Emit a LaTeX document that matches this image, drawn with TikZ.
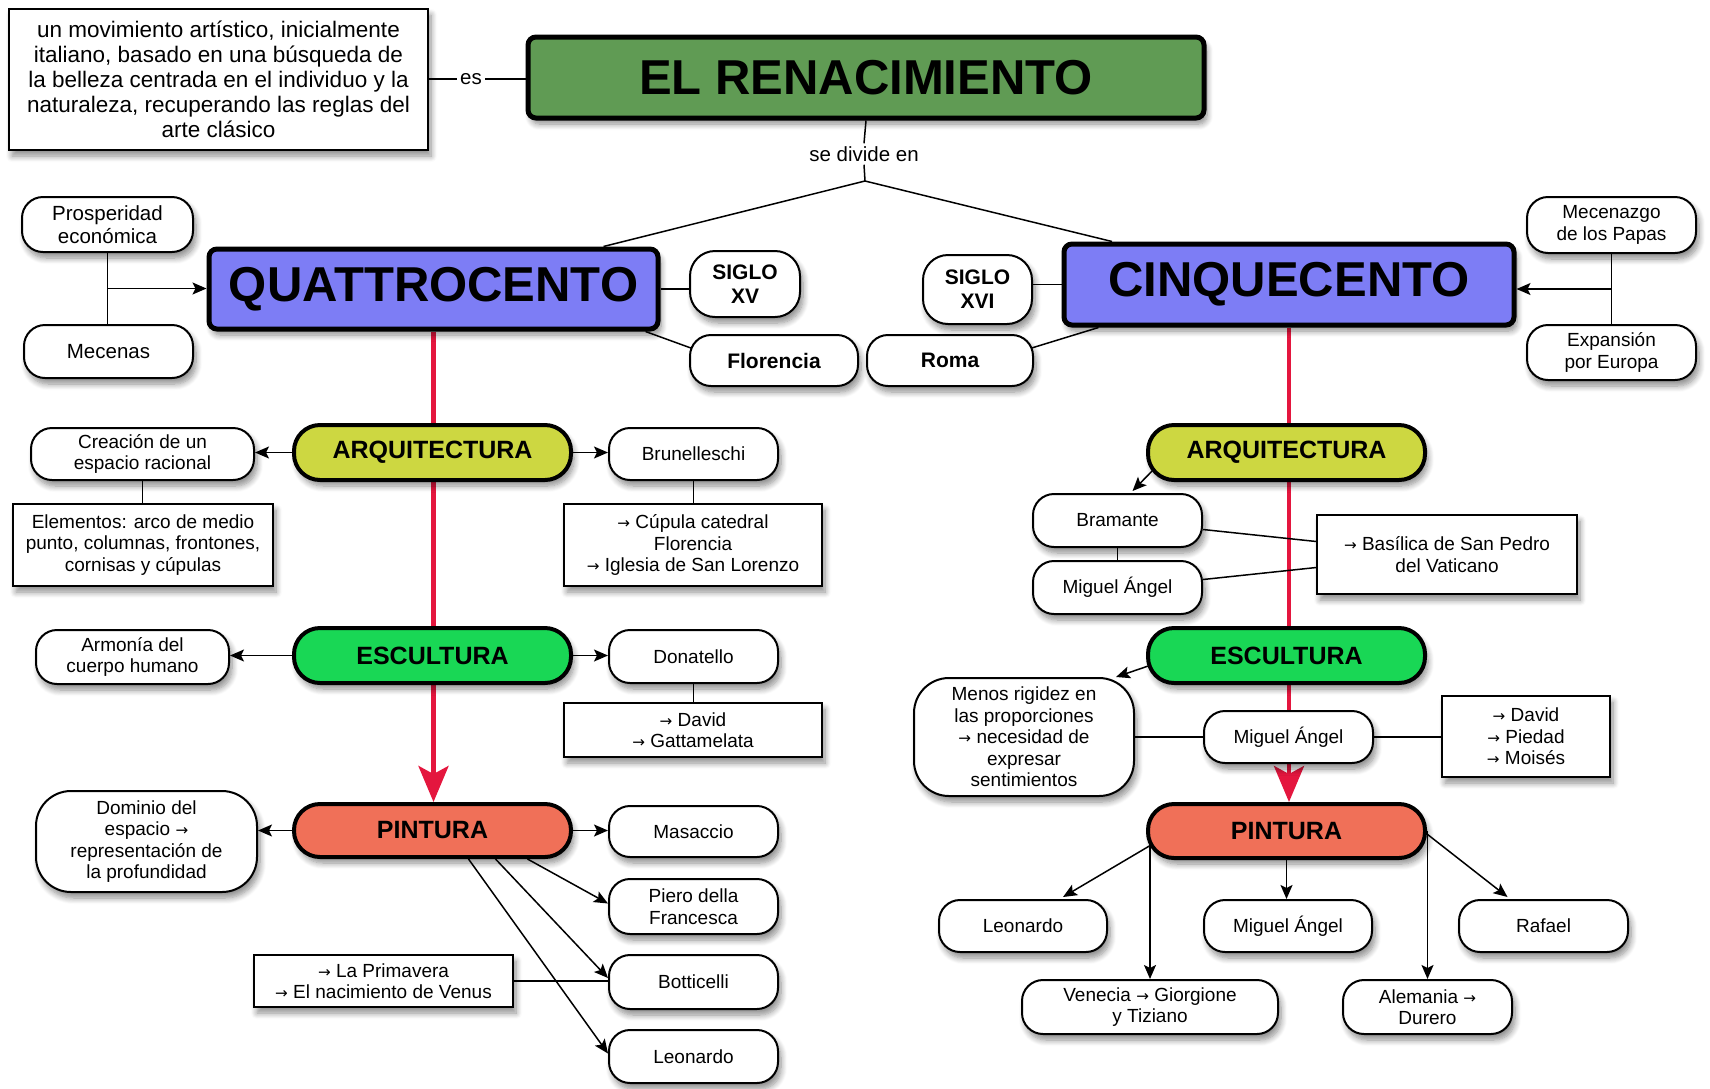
\documentclass[tikz,border=0pt]{standalone}
\usepackage{fontspec}
\setmainfont{Liberation Sans}
\newfontfamily\arrowfam{DejaVu Sans}
\newcommand\myarr{{\arrowfam\scalebox{0.8}{→}}}
\usetikzlibrary{arrows.meta,calc,shadows.blur}
\pgfdeclarelayer{background}
\pgfsetlayers{background,main}
\definecolor{rengreen}{RGB}{96,155,84}
\definecolor{perblue}{RGB}{125,125,245}
\definecolor{arqyellow}{RGB}{205,215,65}
\definecolor{escgreen}{RGB}{25,215,85}
\definecolor{pinsalmon}{RGB}{240,112,88}
\definecolor{redc}{RGB}{228,22,62}
\tikzset{
 shad/.style={blur shadow={shadow xshift=3pt,shadow yshift=-6pt,shadow blur radius=6pt,shadow blur steps=8,shadow opacity=45}},
 nbase/.style={draw=black, fill=white, inner sep=0pt, align=center, shad, text=black},
 smalltxt/.style={font=\fontsize{19}{21.5}\selectfont},
 wnode/.style={nbase, smalltxt, line width=2pt, rounded corners=21pt},
 rbox/.style={nbase, smalltxt, line width=1.5pt},
 catnode/.style={nbase, line width=4pt, rounded corners=26pt, font=\fontsize{25}{28}\selectfont\bfseries, minimum width=277pt, minimum height=55pt},
 pernode/.style={nbase, line width=5pt, rounded corners=8pt, fill=perblue, font=\fontsize{49}{54}\selectfont\bfseries},
 sz/.style 2 args={minimum width=#1pt, minimum height=#2pt},
 lbl/.style={inner sep=3pt, font=\fontsize{20.5}{23}\selectfont},
 lnk/.style={line width=1.5pt, draw=black},
 arrlnk/.style={lnk, -{Stealth[length=14pt,width=12pt,inset=3pt]}},
 redln/.style={line width=4.5pt, draw=redc, -{Stealth[length=36pt,width=30pt,inset=8pt]}},
}
\begin{document}
\begin{tikzpicture}[x=1pt,y=-1pt]
\useasboundingbox (0,0) rectangle (1710,1088);
\begin{pgfonlayer}{background}
\fill[white] (0,0) rectangle (1710,1088);
\end{pgfonlayer}
% warm-up shadow, outside the page
\node[rbox, sz={40}{40}] (dummy) at (-400,-400) {};

% top
\node[lbl] (es) at (471,79) {es};
\node[nbase, line width=5pt, rounded corners=8pt, fill=rengreen, font=\fontsize{49}{54}\selectfont\bfseries, sz={676}{81}] (ren) at (866,77.5) {EL RENACIMIENTO};
\node[rbox, sz={419}{141}, font=\fontsize{22.5}{25}\selectfont] (def) at (218.5,79.5)
 {un movimiento artístico, inicialmente\\italiano, basado en una búsqueda de\\la belleza centrada en el individuo y la\\naturaleza, recuperando las reglas del\\arte clásico};
\node[lbl] (sediv) at (864,154) {se divide en};
\coordinate (j) at (865,181);

% periods
\node[pernode, sz={449}{80}] (quat) at (433.5,289) {QUATTROCENTO};
\node[pernode, sz={450}{81}] (cinq) at (1289,284.5) {CINQUECENTO};
\node[wnode, rounded corners=25pt, sz={110}{66}, font=\fontsize{21}{24}\selectfont\bfseries] (sxv) at (745,284) {SIGLO\\XV};
\node[wnode, rounded corners=25pt, sz={109}{69}, font=\fontsize{21}{24}\selectfont\bfseries] (sxvi) at (977.5,289.5) {SIGLO\\XVI};
\node[wnode, sz={168}{51}, font=\fontsize{21}{24}\selectfont\bfseries] (flor) at (774,360.5) {Florencia};
\node[wnode, sz={166}{51}, font=\fontsize{21}{24}\selectfont\bfseries] (roma) at (950,360.5) {Roma};
\node[wnode, sz={171}{55}, font=\fontsize{20.5}{23}\selectfont] (pros) at (107.5,224.5) {Prosperidad\\económica};
\node[wnode, sz={169}{53}, font=\fontsize{20.5}{23}\selectfont] (mec) at (108.5,351.5) {Mecenas};
\node[wnode, sz={169}{56}] (mpap) at (1611.5,225) {Mecenazgo\\de los Papas};
\node[wnode, sz={169}{55}] (exp) at (1611.5,352.5) {Expansión\\por Europa};

% left column
\node[catnode, fill=arqyellow] (aql) at (432.5,452.5) {ARQUITECTURA};
\node[catnode, fill=escgreen] (esl) at (432.5,655.5) {ESCULTURA};
\node[catnode, fill=pinsalmon, minimum height=53pt] (pil) at (432.5,830.5) {PINTURA};
\node[wnode, sz={223}{52}] (crea) at (142.5,454) {Creación de un\\espacio racional};
\node[rbox, sz={260}{82}] (elem) at (143,545) {Elementos: arco de medio\\punto, columnas, frontones,\\cornisas y cúpulas};
\node[wnode, sz={169}{52}] (brun) at (693.5,454) {Brunelleschi};
\node[rbox, sz={258}{82}] (cup) at (693,545) {\myarr{} Cúpula catedral\\Florencia\\\myarr{} Iglesia de San Lorenzo};
\node[wnode, sz={193}{54}] (armo) at (132.5,657) {Armonía del\\cuerpo humano};
\node[wnode, sz={169}{53}] (dona) at (693.5,656.5) {Donatello};
\node[rbox, sz={258}{54}] (dav1) at (693,730) {\myarr{} David\\\myarr{} Gattamelata};
\node[wnode, rounded corners=35pt, sz={221}{101}] (domi) at (146.5,841.5) {Dominio del\\espacio \myarr\\representación de\\la profundidad};
\node[wnode, sz={169}{51}] (masa) at (693.5,831.5) {Masaccio};
\node[wnode, sz={169}{55}] (pier) at (693.5,906.5) {Piero della\\Francesca};
\node[wnode, sz={169}{54}] (bott) at (693.5,982) {Botticelli};
\node[wnode, sz={169}{53}] (leol) at (693.5,1056.5) {Leonardo};
\node[rbox, sz={259}{52}] (prim) at (383.5,981) {\myarr{} La Primavera\\\myarr{} El nacimiento de Venus};

% right column
\node[catnode, fill=arqyellow] (aqr) at (1286.5,452.5) {ARQUITECTURA};
\node[catnode, fill=escgreen] (esr) at (1286.5,655.5) {ESCULTURA};
\node[catnode, fill=pinsalmon, minimum height=54pt] (pir) at (1286.5,831) {PINTURA};
\node[wnode, sz={169}{53}] (bram) at (1117.5,520.5) {Bramante};
\node[wnode, sz={169}{53}] (mia) at (1117.5,587.5) {Miguel Ángel};
\node[rbox, sz={260}{79}] (basi) at (1447,554.5) {\myarr{} Basílica de San Pedro\\del Vaticano};
\node[wnode, rounded corners=35pt, sz={220}{118}] (menos) at (1024,737) {Menos rigidez en\\las proporciones\\\myarr{} necesidad de\\expresar\\sentimientos};
\node[wnode, sz={169}{52}] (mie) at (1288.5,737) {Miguel Ángel};
\node[rbox, sz={168}{81}] (dpm) at (1526,736.5) {\myarr{} David\\\myarr{} Piedad\\\myarr{} Moisés};
\node[wnode, sz={168}{52}] (leor) at (1023,926) {Leonardo};
\node[wnode, sz={168}{52}] (mip) at (1288,926) {Miguel Ángel};
\node[wnode, sz={169}{52}] (raf) at (1543.5,926) {Rafael};
\node[wnode, sz={256}{54}] (ven) at (1150,1007) {Venecia \myarr{} Giorgione\\y Tiziano};
\node[wnode, sz={169}{54}] (ale) at (1427.5,1007) {Alemania \myarr\\Durero};

\begin{pgfonlayer}{background}
% top connectors
\draw[lnk] (es.west -| def.east) -- (es.west);
\draw[lnk] (es.east) -- (es.east -| ren.west);
\draw[lnk] (ren.south) -- (sediv.north);
\draw[lnk] (sediv.south) -- (j);
\draw[lnk] (j) -- ($(quat.north)+(170,0)$);
\draw[lnk] (j) -- ($(cinq.north)+(-177,0)$);
\draw[lnk] (quat.east) -- (quat.east -| sxv.west);
\draw[lnk] (cinq.west) -- (cinq.west -| sxvi.east);
\draw[lnk] ($(quat.south east)+(-15,0)$) -- ($(flor.west)+(6,-11)$);
\draw[lnk] ($(cinq.south west)+(37,0)$) -- ($(roma.east)+(-4,-12)$);
\draw[lnk] (pros.south) -- (pros.south |- mec.north);
\coordinate (pm) at ($(pros.south)!0.5!(pros.south |- mec.north)$);
\draw[arrlnk] (pm) -- (pm -| quat.west);
\draw[lnk] (mpap.south) -- (mpap.south |- exp.north);
\coordinate (me) at ($(mpap.south)!0.5!(mpap.south |- exp.north)$);
\draw[arrlnk] (me) -- (me -| cinq.east);
% red spines
\draw[redln] (quat.south) -- (quat.south |- pil.north);
\draw[redln] (cinq.south) -- (cinq.south |- pir.north);
% left column
\draw[arrlnk] (aql.west) -- (aql.west -| crea.east);
\draw[arrlnk] (aql.east) -- (aql.east -| brun.west);
\draw[lnk] (crea.south) -- (crea.south |- elem.north);
\draw[lnk] (brun.south) -- (brun.south |- cup.north);
\draw[arrlnk] (esl.west) -- (esl.west -| armo.east);
\draw[arrlnk] (esl.east) -- (esl.east -| dona.west);
\draw[lnk] (dona.south) -- (dona.south |- dav1.north);
\draw[arrlnk] (pil.west) -- (pil.west -| domi.east);
\draw[arrlnk] (pil.east) -- (pil.east -| masa.west);
\draw[arrlnk] ($(pil.south)+(95,0)$) -- ($(pier.west)+(0,-3)$);
\draw[arrlnk] ($(pil.south)+(63,0)$) -- ($(bott.west)+(0,-4)$);
\draw[arrlnk] ($(pil.south)+(36,0)$) -- ($(leol.west)+(0,-3)$);
\draw[lnk] (prim.east) -- (prim.east -| bott.west);
% right column
\draw[arrlnk] ($(aqr.south west)+(11,-16)$) -- ($(bram.north)+(15,-2)$);
\draw[lnk] (bram.south) -- (mia.north);
\draw[lnk] ($(bram.east)+(0,9)$) -- ($(basi.west)+(0,-13)$);
\draw[lnk] ($(mia.east)+(0,-8)$) -- ($(basi.west)+(0,13)$);
\draw[arrlnk] ($(esr.south west)+(11,-22)$) -- ($(menos.north)+(92,0)$);
\draw[lnk] (menos.east) -- (menos.east -| mie.west);
\draw[lnk] (mie.east) -- (mie.east -| dpm.west);
\draw[arrlnk] ($(pir.west)+(5,14)$) -- ($(leor.north)+(40,-2)$);
\draw[arrlnk] (ven.north |- pir.center) -- (ven.north);
\draw[arrlnk] (pir.south) -- (pir.south |- mip.north);
\draw[arrlnk] (ale.north |- pir.center) -- (ale.north);
\draw[arrlnk] ($(pir.east)+(0,3)$) -- ($(raf.north)+(-36,-2)$);
\end{pgfonlayer}
\end{tikzpicture}
\end{document}
